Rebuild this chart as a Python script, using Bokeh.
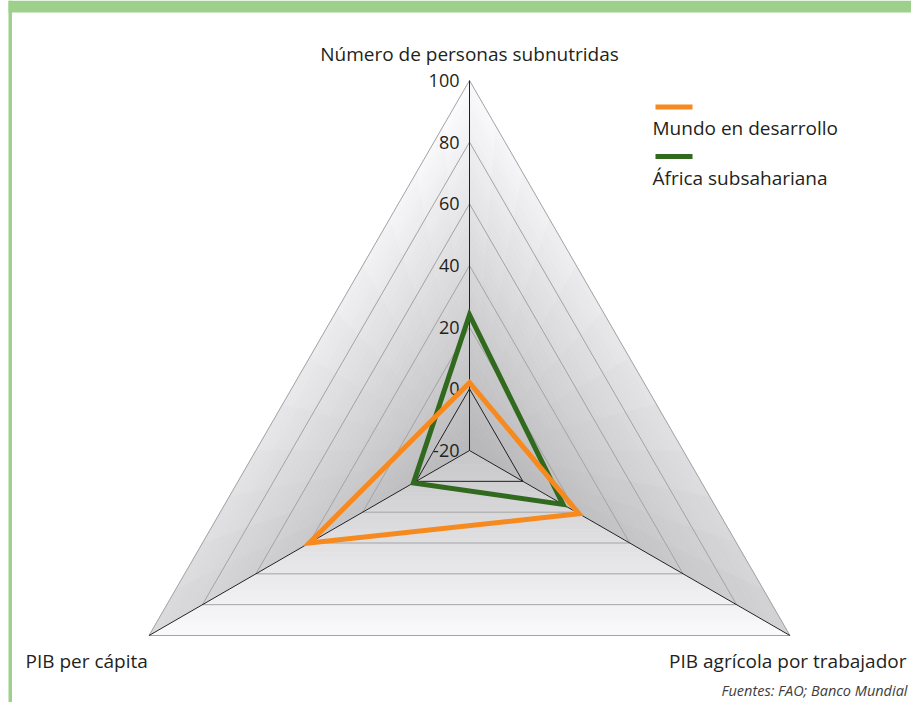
import numpy as np
from bokeh.plotting import figure
from bokeh.models import Range1d, ColumnDataSource
from bokeh.core.properties import value
from bokeh.embed import file_html
from bokeh.resources import INLINE

# ---------------- data ----------------
categories = ["Número de personas subnutridas", "PIB agrícola por trabajador", "PIB per cápita"]
series_names = ["Mundo en desarrollo", "África subsahariana"]
mundo = [2, 21, 40]
africa = [24, 15, 1]
ticks = [-20, 0, 20, 40, 60, 80, 100]
tick_labels = ["-20", "0", "20", "40", "60", "80", "100"]
source_note = "Fuentes: FAO; Banco Mundial"

# ---------------- geometry ----------------
VMIN, VMAX = -20, 100
S = 370 / (VMAX - VMIN)          # px per unit
CX, CY = 469, 450                # centre on screen
W, H = 911, 702

def px(X, Y):
    return ((X - CX) / S, (CY - Y) / S)

ang = np.radians([90, -30, 210])

def polar(v, k):
    r = v - VMIN
    return r * np.cos(ang[k]), r * np.sin(ang[k])

x0, y1 = px(0, 0)
x1, y0 = px(W, H)

p = figure(width=W, height=H, x_range=Range1d(x0, x1), y_range=Range1d(y0, y1),
           output_backend="svg", toolbar_location=None, min_border=0,
           x_axis_location=None, y_axis_location=None)
p.grid.visible = False
p.outline_line_color = None
p.background_fill_color = "white"
p.border_fill_color = "white"

FONT = "Open Sans"
TXT = "#231f20"

# ---------------- frame ----------------
hx0, hy0 = px(8, 0)
hx1, hy1 = px(W, 12)
p.quad(left=hx0, right=hx1, top=hy0, bottom=hy1, fill_color="#9dd18b", line_color=None)
lx0, ly0 = px(8, 0)
lx1, ly1 = px(11.5, H)
p.quad(left=lx0, right=lx1, top=ly0, bottom=ly1, fill_color="#9dd18b", line_color=None)

# ---------------- shaded background (3 faces) ----------------
V = [np.array(polar(VMAX, k)) for k in range(3)]

def shade(face, t, s):
    if face == "left":
        g = 183 + t * (70 - 36 * s)
    elif face == "right":
        g = 181 + t * (70 - 42 * s)
    else:
        g = 198 + t * 52
    g = int(round(min(g, 252)))
    return "#%02x%02x%02x" % (g, g, min(g + 2, 255))

faces = [("left", V[0], V[2], 12), ("right", V[0], V[1], 12), ("bottom", V[2], V[1], 1)]
N = 40
bx, by, bc = [], [], []
for name, A, B, M in faces:
    for i in range(N):
        t0, t1 = i / N, (i + 1) / N
        for j in range(M):
            s0, s1 = j / M, (j + 1) / M
            pts = []
            for (t, s) in [(t0, s0), (t0, s1), (t1, s1), (t1, s0)]:
                P = t * ((1 - s) * A + s * B)
                pts.append(P)
            bx.append([q[0] for q in pts])
            by.append([q[1] for q in pts])
            bc.append(shade(name, (i + 0.5) / N, (j + 0.5) / M))
p.patches(bx, by, fill_color=bc, line_color=bc, line_width=0.8)

# ---------------- grid ----------------
for tv in ticks[1:]:
    xs = [polar(tv, k)[0] for k in range(3)]
    ys = [polar(tv, k)[1] for k in range(3)]
    col = TXT if tv == 0 else "#a3a3a5"
    p.patch(xs + [xs[0]], ys + [ys[0]], fill_color=None, line_color=col, line_width=1)
for k in range(3):
    ex, ey = polar(VMAX, k)
    p.line([0, ex], [0, ey], line_color=TXT, line_width=1)

# ---------------- tick labels ----------------
lab_x = px(459, 0)[0]
p.text(x=[lab_x] * len(ticks), y=[polar(tv, 0)[1] for tv in ticks], text=tick_labels,
       text_font=value(FONT), text_font_size="18px", text_color=TXT,
       text_align="right", text_baseline="middle")

# ---------------- series ----------------
colors = ["#f68a1f", "#31691e"]
for vals, col in [(africa, colors[1]), (mundo, colors[0])]:
    xs = [polar(v, k)[0] for k, v in enumerate(vals)]
    ys = [polar(v, k)[1] for k, v in enumerate(vals)]
    p.patch(xs + [xs[0]], ys + [ys[0]], fill_color=None, line_color=col,
            line_width=5, line_join="miter")

# ---------------- category labels ----------------
cx_, cy_ = [], []
for X, Y in [(469, 53), (906, 660), (25, 660)]:
    a, b = px(X, Y)
    cx_.append(a); cy_.append(b)
src = ColumnDataSource(dict(x=cx_, y=cy_, t=categories, al=["center", "right", "left"]))
p.text(x="x", y="y", text="t", text_align="al", source=src, text_font=value(FONT),
       text_font_size="19px", text_color=TXT, text_baseline="middle")

# ---------------- legend ----------------
for i, (name, col) in enumerate(zip(series_names, colors)):
    la, lb = px(655, 106.5 + 49.5 * i)
    lc, _ = px(692, 0)
    p.line([la, lc], [lb, lb], line_color=col, line_width=5)
    tx, ty = px(652, 127.5 + 49.5 * i)
    p.text(x=[tx], y=[ty], text=[name], text_font=value(FONT), text_font_size="19px",
           text_color=TXT, text_baseline="middle", text_align="left")

fx, fy = px(907, 690)
p.text(x=[fx], y=[fy], text=[source_note], text_font=value(FONT), text_font_size="14.5px",
       text_font_style="italic", text_color="#3d3d3d", text_align="right",
       text_baseline="middle")

open("out.html", "w").write(file_html(p, INLINE))
